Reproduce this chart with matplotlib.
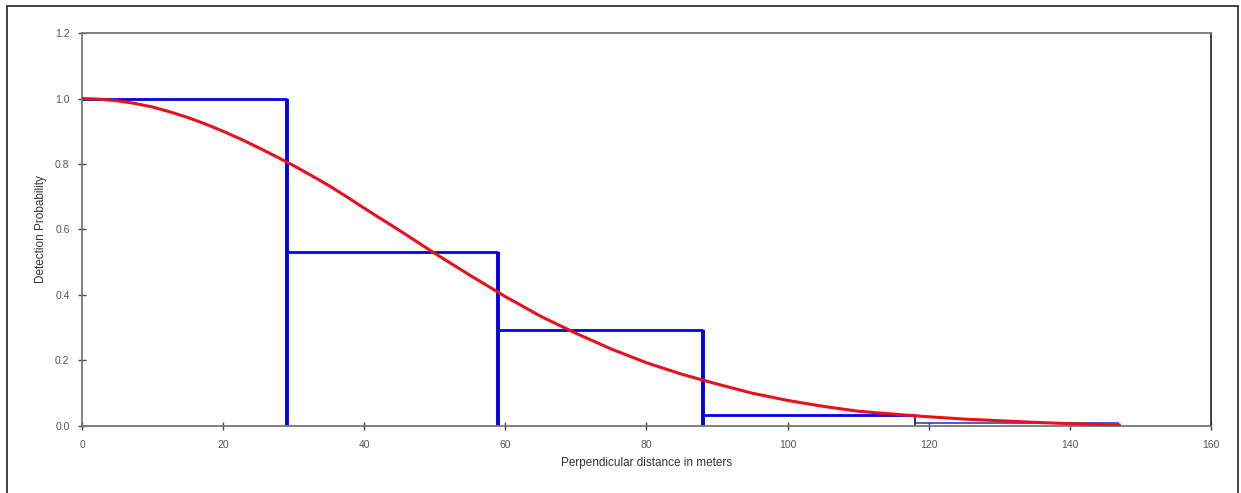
import numpy as np
import matplotlib
matplotlib.use('Agg')
import matplotlib.pyplot as plt
from matplotlib.patches import Rectangle

# Histogram bins (perpendicular distance, m) and scaled detection heights
BIN_EDGES = [0, 29, 59, 88, 118, 147]
BAR_HEIGHTS = [1.0, 0.53, 0.292, 0.033, 0.008]

# Fitted detection curve
CURVE_X = [0, 2.5, 5, 7.5, 10, 12.5, 15, 17.5, 20, 22.5, 25, 27.5, 30, 32.5,
           35, 37.5, 40, 45, 50, 55, 60, 65, 70, 75, 80, 85, 90, 95, 100,
           105, 110, 115, 120, 125, 130, 135, 140, 147]
CURVE_Y = [1.0, 0.998, 0.993, 0.985, 0.974, 0.959, 0.942, 0.922, 0.900, 0.876,
           0.850, 0.823, 0.795, 0.765, 0.734, 0.700, 0.665, 0.597, 0.527, 0.460,
           0.395, 0.335, 0.283, 0.235, 0.193, 0.158, 0.128, 0.100, 0.078, 0.060,
           0.045, 0.036, 0.028, 0.021, 0.016, 0.011, 0.007, 0.003]

X_TICKS = [0, 20, 40, 60, 80, 100, 120, 140, 160]
Y_TICKS = [0.0, 0.2, 0.4, 0.6, 0.8, 1.0, 1.2]

plt.rcParams['font.family'] = ['Liberation Sans', 'DejaVu Sans']

fig = plt.figure(figsize=(12.41, 4.93), dpi=100)
ax = fig.add_axes([0.0661, 0.136, 0.9097, 0.797])

# outer frame around the whole chart
fig.patches.append(Rectangle((7 / 1241, -0.05), 1231 / 1241, 1.05 - 6 / 493,
                             transform=fig.transFigure, fill=False,
                             edgecolor='#222222', linewidth=1.2))

# histogram outlines: tops and right-hand edges (left edge sits on the axis)
lefts = BIN_EDGES[:-1]
rights = BIN_EDGES[1:]
ax.hlines(BAR_HEIGHTS[:4], lefts[:4], rights[:4], color='#0000ee', linewidth=2.0, zorder=2)
ax.vlines(rights[:3], 0, BAR_HEIGHTS[:3], color='#0000ee', linewidth=2.8, zorder=2)
# last, nearly empty bin is drawn thinner
ax.hlines(BAR_HEIGHTS[4], lefts[4], rights[4], color='#3a3ad0', linewidth=1.2, zorder=2)
ax.vlines(lefts[4], 0, BAR_HEIGHTS[3], color='#20205a', linewidth=1.3, zorder=2)

# detection function
ax.plot(CURVE_X, CURVE_Y, color='#e8101c', linewidth=2.2, zorder=3,
        solid_joinstyle='round')

ax.set_xlim(0, 160)
ax.set_ylim(0, 1.2)
ax.set_xticks(X_TICKS)
ax.set_yticks(Y_TICKS)
ax.set_xticklabels([str(t) for t in X_TICKS])
ax.set_yticklabels(['%.1f' % t for t in Y_TICKS])
ax.tick_params(direction='inout', length=6, width=1, color='#444444',
               labelsize=7.5, labelcolor='#555555')
ax.tick_params(axis='x', pad=7)
ax.tick_params(axis='y', pad=6)

for s in ax.spines.values():
    s.set_color('#777777')
    s.set_linewidth(1.3)
ax.spines['right'].set_color('#333333')

ax.set_xlabel('Perpendicular distance in meters', fontsize=8.5, color='#333333', labelpad=5)
ax.set_ylabel('Detection Probability', fontsize=8.5, color='#333333', labelpad=6)

fig.savefig('out.png', dpi=100)
